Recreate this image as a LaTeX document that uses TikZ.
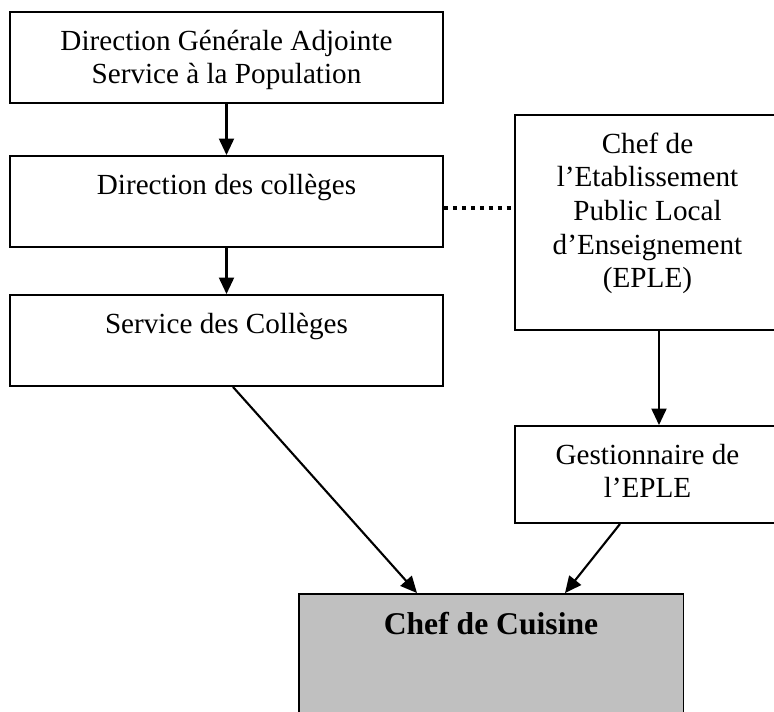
\documentclass[tikz,border=0pt]{standalone}
\usepackage{fontspec}
\setmainfont{Liberation Serif}
\usepackage{tikz}
\usetikzlibrary{arrows.meta, positioning, calc}
\definecolor{cuisinegray}{RGB}{192,192,192}

\begin{document}
\begin{tikzpicture}[x=0.02cm, y=0.02cm,
  box/.style={draw, line width=1.1pt, fill=white, inner sep=0pt},
  txt/.style={inner sep=0pt, align=center, font=\fontsize{16.6}{19.1}\selectfont},
  arr/.style={-{Triangle[length=0.33cm, width=0.3cm]}, line width=1.2pt}]
  \useasboundingbox (0,0) rectangle (774,711);
  \clip (0,0) rectangle (774,711);

  % Left column
  \node[box, minimum width=8.66cm, minimum height=1.82cm] (dga) at (226.5,653.5) {};
  \node[box, minimum width=8.66cm, minimum height=1.82cm] (dc) at (226.5,509.5) {};
  \node[box, minimum width=8.66cm, minimum height=1.82cm] (sc) at (226.5,370.5) {};

  % Right column
  \node[box, minimum width=5.3cm, minimum height=4.3cm] (eple) at (647.5,488.5) {};
  \node[box, minimum width=5.3cm, minimum height=1.94cm] (gest) at (647.5,236.5) {};

  % Bottom
  \node[box, fill=cuisinegray, minimum width=7.7cm, minimum height=2.72cm] (cuis) at (491,49) {};

  % Texts
  \node[txt, below=0.37cm of dga.north] (dgaText) {Direction Générale Adjointe\\Service à la Population};
  \node[txt, below=0.37cm of dc.north] (dcText) {Direction des collèges};
  \node[txt, below=0.37cm of sc.north] (scText) {Service des Collèges};
  \node[txt, below=0.37cm of eple.north] (epleText) {Chef de\\l’Etablissement\\Public Local\\d’Enseignement\\(EPLE)};
  \node[txt, below=0.37cm of gest.north] (gestText) {Gestionnaire de\\l’EPLE};
  \node[txt, font=\fontsize{18}{21}\selectfont\bfseries, below=0.37cm of cuis.north] (cuisText) {Chef de Cuisine};

  % Links
  \draw[arr] (dga) -- (dc);
  \draw[arr] (dc) -- (sc);
  \draw[line width=2.4pt, dash pattern=on 2.4pt off 2.7pt] ([yshift=-0.13cm]dc.east) -- ([yshift=-0.13cm]dc.east -| eple.west);
  \draw[arr] ([xshift=0.23cm]eple.south) -- ([xshift=0.23cm]eple.south |- gest.north);
  \draw[arr] ([xshift=0.13cm]sc.south) -- ([xshift=-1.48cm]cuis.north);
  \draw[arr] ([xshift=-0.55cm]gest.south) -- ([xshift=1.48cm]cuis.north);
\end{tikzpicture}
\end{document}
